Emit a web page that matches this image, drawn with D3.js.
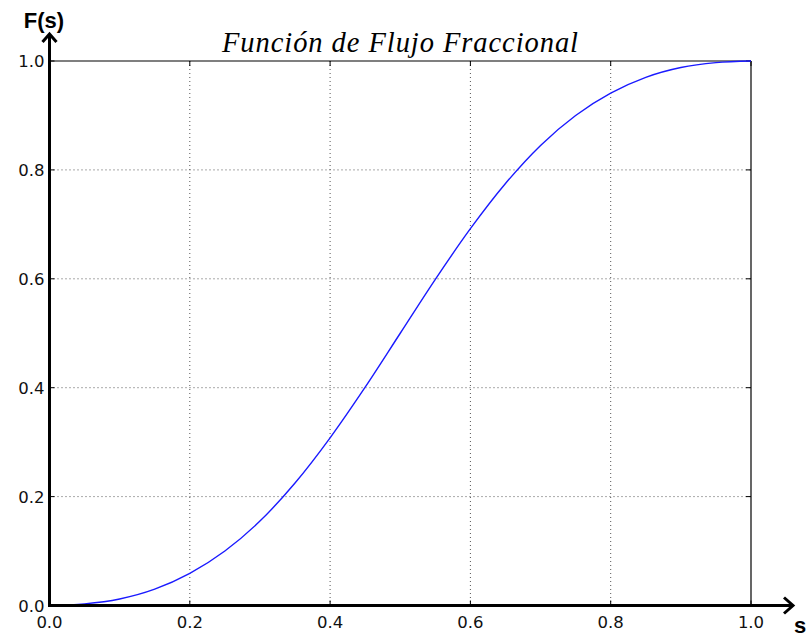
<!DOCTYPE html>
<html><head><meta charset="utf-8">
<script src="https://cdn.jsdelivr.net/npm/d3@7"></script>
<style>body{margin:0;background:#fff}</style>
</head><body>
<svg id="c" width="811" height="639"></svg>
<script>
const sValues = [0,0.05,0.1,0.15,0.2,0.25,0.3,0.35,0.4,0.45,0.5,0.55,0.6,0.65,0.7,0.75,0.8,0.85,0.9,0.95,1.0];
const fValues = [0,0.003,0.012,0.030,0.059,0.100,0.155,0.225,0.308,0.401,0.500,0.599,0.692,0.775,0.845,0.900,0.941,0.970,0.988,0.997,1.0];
const xTicks = [0,0.2,0.4,0.6,0.8,1.0];
const yTicks = [0,0.2,0.4,0.6,0.8,1.0];
const titleText = "Función de Flujo Fraccional";
const xLabel = "s", yLabel = "F(s)";

const svg = d3.select("#c");
const L=49.5, R=751, T=61, B=605.5;
const x = d3.scaleLinear().domain([0,1]).range([L,R]);
const y = d3.scaleLinear().domain([0,1]).range([B,T]);

// grid
const g = svg.append("g");
g.selectAll(".vg").data(xTicks.slice(1,-1)).enter().append("line")
  .attr("x1",d=>x(d)).attr("x2",d=>x(d)).attr("y1",T).attr("y2",B)
  .attr("stroke","#555").attr("stroke-width",1).attr("stroke-dasharray","1,3");
g.selectAll(".hg").data(yTicks.slice(1,-1)).enter().append("line")
  .attr("y1",d=>y(d)).attr("y2",d=>y(d)).attr("x1",L).attr("x2",R)
  .attr("stroke","#555").attr("stroke-width",1).attr("stroke-dasharray","1,3");

// top & right thin spines
svg.append("line").attr("x1",L).attr("x2",R).attr("y1",T).attr("y2",T).attr("stroke","#000").attr("stroke-width",1.2);
svg.append("line").attr("x1",R).attr("x2",R).attr("y1",T).attr("y2",B).attr("stroke","#000").attr("stroke-width",1.2);

// inward ticks
const tl=5;
xTicks.forEach(d=>{
  svg.append("line").attr("x1",x(d)).attr("x2",x(d)).attr("y1",B).attr("y2",B-tl).attr("stroke","#000");
  svg.append("line").attr("x1",x(d)).attr("x2",x(d)).attr("y1",T).attr("y2",T+tl).attr("stroke","#000");
});
yTicks.forEach(d=>{
  svg.append("line").attr("y1",y(d)).attr("y2",y(d)).attr("x1",L).attr("x2",L+tl).attr("stroke","#000");
  svg.append("line").attr("y1",y(d)).attr("y2",y(d)).attr("x1",R).attr("x2",R-tl).attr("stroke","#000");
});

// curve
const line = d3.line().x((d,i)=>x(sValues[i])).y(d=>y(d)).curve(d3.curveMonotoneX);
svg.append("path").datum(fValues).attr("d",line).attr("fill","none").attr("stroke","#1a1aff").attr("stroke-width",1.4);

// thick axes with arrows
svg.append("line").attr("x1",L).attr("x2",L).attr("y1",B+1.5).attr("y2",35).attr("stroke","#000").attr("stroke-width",3);
svg.append("line").attr("x1",L-1.5).attr("x2",792).attr("y1",B).attr("y2",B).attr("stroke","#000").attr("stroke-width",3);
svg.append("path").attr("d",`M${L-7},${42} L${L},${34} L${L+7},${42}`).attr("fill","none").attr("stroke","#000").attr("stroke-width",3);
svg.append("path").attr("d",`M${784},${B-8} L${793},${B} L${784},${B+8}`).attr("fill","none").attr("stroke","#000").attr("stroke-width",3);

// tick labels
const font = "DejaVu Sans, sans-serif";
svg.selectAll(".xl").data(xTicks).enter().append("text")
  .attr("x",d=>x(d)).attr("y",B+22).attr("text-anchor","middle")
  .attr("font-family",font).attr("font-size",16.5).attr("fill","#111")
  .text(d=>d.toFixed(1));
svg.selectAll(".yl").data(yTicks).enter().append("text")
  .attr("x",L-5).attr("y",d=>y(d)+6).attr("text-anchor","end")
  .attr("font-family",font).attr("font-size",16.5).attr("fill","#111")
  .text(d=>d.toFixed(1));

// labels
svg.append("text").attr("x",44).attr("y",28).attr("text-anchor","middle")
  .attr("font-family","Liberation Sans, Arial, sans-serif").attr("font-weight","bold").attr("font-size",22).text(yLabel);
svg.append("text").attr("x",800).attr("y",633).attr("text-anchor","middle")
  .attr("font-family","Liberation Sans, Arial, sans-serif").attr("font-weight","bold").attr("font-size",22).text(xLabel);

// title
svg.append("text").attr("x",400).attr("y",52).attr("text-anchor","middle")
  .attr("font-family","Liberation Serif, serif").attr("font-style","italic").attr("font-size",28.5)
  .attr("textLength",356).attr("lengthAdjust","spacing").text(titleText);
</script>
</body></html>
